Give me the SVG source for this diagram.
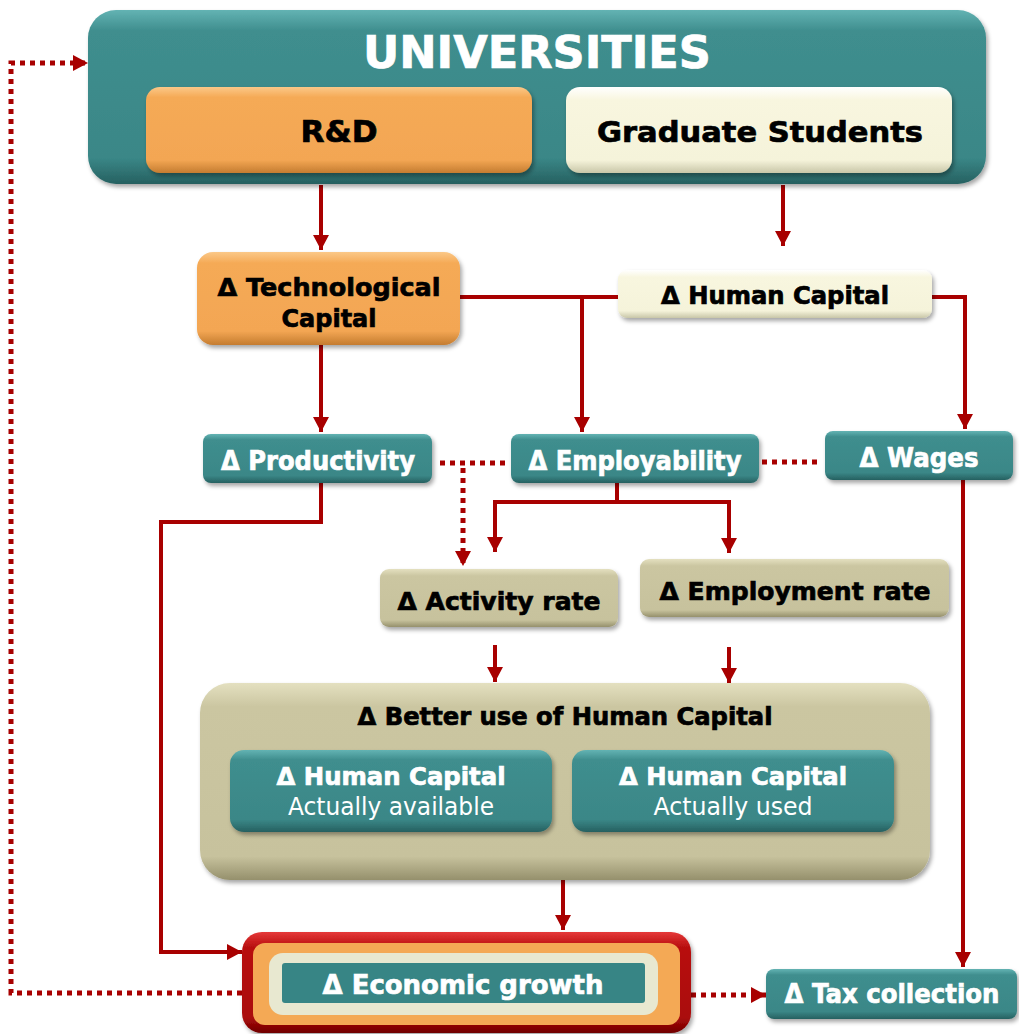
<svg xmlns="http://www.w3.org/2000/svg" width="1019" height="1034" viewBox="0 0 1019 1034">
  <defs>
    <style>
      .lbl { font-family: "DejaVu Sans", Verdana, sans-serif; font-weight: bold; text-anchor: middle; stroke-width: 0.7; }
      .sub { font-family: "DejaVu Sans", Verdana, sans-serif; font-weight: normal; text-anchor: middle; }
      .w { fill: #ffffff; }
      .lbl.w { stroke: #ffffff; }
      .k { fill: #000000; }
      .lbl.k { stroke: #000000; }
      .link { fill: none; stroke: #a80000; stroke-width: 4; }
      .dot { fill: none; stroke: #a80000; stroke-width: 5; stroke-dasharray: 5 5; }
      .arr { marker-end: url(#head); }
    </style>
    <linearGradient id="gTeal" x1="0" y1="0" x2="0" y2="1">
      <stop offset="0" stop-color="#63b3b3"/>
      <stop offset="0.12" stop-color="#3f8e8e"/>
      <stop offset="0.85" stop-color="#3a8787"/>
      <stop offset="1" stop-color="#266060"/>
    </linearGradient>
    <linearGradient id="gOrange" x1="0" y1="0" x2="0" y2="1">
      <stop offset="0" stop-color="#fbc888"/>
      <stop offset="0.12" stop-color="#f5aa56"/>
      <stop offset="0.85" stop-color="#f3a653"/>
      <stop offset="1" stop-color="#c47c30"/>
    </linearGradient>
    <linearGradient id="gCream" x1="0" y1="0" x2="0" y2="1">
      <stop offset="0" stop-color="#ffffff"/>
      <stop offset="0.15" stop-color="#f8f6df"/>
      <stop offset="0.85" stop-color="#f5f3da"/>
      <stop offset="1" stop-color="#c8c6a8"/>
    </linearGradient>
    <linearGradient id="gKhaki" x1="0" y1="0" x2="0" y2="1">
      <stop offset="0" stop-color="#e4e0c0"/>
      <stop offset="0.12" stop-color="#cbc6a1"/>
      <stop offset="0.88" stop-color="#c7c29d"/>
      <stop offset="1" stop-color="#95906c"/>
    </linearGradient>
    <linearGradient id="gRed" x1="0" y1="0" x2="0" y2="1">
      <stop offset="0" stop-color="#e53838"/>
      <stop offset="0.15" stop-color="#b81010"/>
      <stop offset="0.85" stop-color="#aa0a0a"/>
      <stop offset="1" stop-color="#700000"/>
    </linearGradient>
    <filter id="shade" x="-10%" y="-10%" width="125%" height="135%">
      <feDropShadow dx="2" dy="3" stdDeviation="2" flood-color="#000000" flood-opacity="0.35"/>
    </filter>
    <marker id="head" viewBox="0 0 15 16" markerWidth="15" markerHeight="16" refX="15" refY="8" orient="auto" markerUnits="userSpaceOnUse">
      <path d="M0,0 L15,8 L0,16 z" fill="#a80000"/>
    </marker>
  </defs>

  <rect width="1019" height="1034" fill="#ffffff"/>

  <!-- connectors -->
  <g id="connectors">
    <path class="link arr" d="M321,185 V250"/>
    <path class="link arr" d="M783,185 V246"/>
    <path class="link arr" d="M321,345 V432"/>
    <path class="link" d="M460,297 H618"/>
    <path class="link arr" d="M582,297 V432"/>
    <path class="link arr" d="M932,297 H965 V429"/>
    <path class="link arr" d="M321,483 V522 H161 V952 H242"/>
    <path class="link" d="M617,483 V502"/>
    <path class="link arr" d="M617,502 H495 V552"/>
    <path class="link arr" d="M617,502 H729 V553"/>
    <path class="link arr" d="M495,645 V682"/>
    <path class="link arr" d="M729,647 V683"/>
    <path class="link arr" d="M563,880 V930"/>
    <path class="link arr" d="M963,480 V967"/>
    <path class="dot" d="M440,463 H507"/>
    <path class="dot arr" d="M463,468 V566"/>
    <path class="dot" d="M762,462 H822"/>
    <path class="dot arr" d="M242,993 H11 V63 H88"/>
    <path class="dot arr" d="M691,995 H766"/>
  </g>

  <!-- universities -->
  <g id="universities">
    <rect x="88" y="10" width="898" height="174" rx="28" fill="url(#gTeal)" filter="url(#shade)"/>
    <text class="lbl w" x="537" y="68" font-size="44" textLength="348" lengthAdjust="spacingAndGlyphs">UNIVERSITIES</text>
  </g>
  <g id="rd">
    <rect x="146" y="87" width="386" height="86" rx="14" fill="url(#gOrange)" filter="url(#shade)"/>
    <text class="lbl k" x="339" y="142" font-size="31" textLength="77" lengthAdjust="spacingAndGlyphs">R&amp;D</text>
  </g>
  <g id="graduate-students">
    <rect x="566" y="87" width="386" height="86" rx="14" fill="url(#gCream)" filter="url(#shade)"/>
    <text class="lbl k" x="760" y="142" font-size="29" textLength="326" lengthAdjust="spacingAndGlyphs">Graduate Students</text>
  </g>

  <g id="technological-capital">
    <rect x="197" y="252" width="263" height="93" rx="16" fill="url(#gOrange)" filter="url(#shade)"/>
    <text class="lbl k" x="329" y="296" font-size="25" textLength="223" lengthAdjust="spacingAndGlyphs">Δ Technological</text>
    <text class="lbl k" x="329" y="327" font-size="25" textLength="95" lengthAdjust="spacingAndGlyphs">Capital</text>
  </g>
  <g id="human-capital">
    <rect x="618" y="270" width="314" height="48" rx="9" fill="url(#gCream)" filter="url(#shade)"/>
    <text class="lbl k" x="775" y="304" font-size="24" textLength="228" lengthAdjust="spacingAndGlyphs">Δ Human Capital</text>
  </g>

  <g id="productivity">
    <rect x="203" y="434" width="229" height="49" rx="8" fill="url(#gTeal)" filter="url(#shade)"/>
    <text class="lbl w" x="318" y="470" font-size="26" textLength="194" lengthAdjust="spacingAndGlyphs">Δ Productivity</text>
  </g>
  <g id="employability">
    <rect x="511" y="434" width="248" height="49" rx="8" fill="url(#gTeal)" filter="url(#shade)"/>
    <text class="lbl w" x="635" y="470" font-size="26" textLength="213" lengthAdjust="spacingAndGlyphs">Δ Employability</text>
  </g>
  <g id="wages">
    <rect x="825" y="431" width="188" height="49" rx="8" fill="url(#gTeal)" filter="url(#shade)"/>
    <text class="lbl w" x="919" y="467" font-size="26" textLength="119" lengthAdjust="spacingAndGlyphs">Δ Wages</text>
  </g>

  <g id="activity-rate">
    <rect x="380" y="569" width="238" height="58" rx="9" fill="url(#gKhaki)" filter="url(#shade)"/>
    <text class="lbl k" x="499" y="610" font-size="25" textLength="203" lengthAdjust="spacingAndGlyphs">Δ Activity rate</text>
  </g>
  <g id="employment-rate">
    <rect x="640" y="559" width="309" height="58" rx="9" fill="url(#gKhaki)" filter="url(#shade)"/>
    <text class="lbl k" x="795" y="600" font-size="25" textLength="271" lengthAdjust="spacingAndGlyphs">Δ Employment rate</text>
  </g>

  <g id="better-use">
    <rect x="200" y="683" width="730" height="197" rx="30" fill="url(#gKhaki)" filter="url(#shade)"/>
    <text class="lbl k" x="565" y="725" font-size="24" textLength="415" lengthAdjust="spacingAndGlyphs">Δ Better use of Human Capital</text>
  </g>
  <g id="hc-available">
    <rect x="230" y="750" width="322" height="82" rx="14" fill="url(#gTeal)" filter="url(#shade)"/>
    <text class="lbl w" x="391" y="785" font-size="24" textLength="229" lengthAdjust="spacingAndGlyphs">Δ Human Capital</text>
    <text class="sub w" x="391" y="815" font-size="24" textLength="206" lengthAdjust="spacingAndGlyphs">Actually available</text>
  </g>
  <g id="hc-used">
    <rect x="572" y="750" width="322" height="82" rx="14" fill="url(#gTeal)" filter="url(#shade)"/>
    <text class="lbl w" x="733" y="785" font-size="24" textLength="228" lengthAdjust="spacingAndGlyphs">Δ Human Capital</text>
    <text class="sub w" x="733" y="815" font-size="24" textLength="159" lengthAdjust="spacingAndGlyphs">Actually used</text>
  </g>

  <g id="economic-growth">
    <rect x="242" y="932" width="449" height="101" rx="20" fill="url(#gRed)" filter="url(#shade)"/>
    <rect x="253" y="943" width="427" height="82" rx="12" fill="#f4a955"/>
    <rect x="269" y="953" width="389" height="62" rx="14" fill="#e8e8d0"/>
    <rect x="282" y="963" width="363" height="40" rx="3" fill="#378585"/>
    <text class="lbl w" x="463" y="994" font-size="27" textLength="281" lengthAdjust="spacingAndGlyphs">Δ Economic growth</text>
  </g>

  <g id="tax-collection">
    <rect x="766" y="969" width="251" height="50" rx="8" fill="url(#gTeal)" filter="url(#shade)"/>
    <text class="lbl w" x="892" y="1003" font-size="26" textLength="215" lengthAdjust="spacingAndGlyphs">Δ Tax collection</text>
  </g>
</svg>
